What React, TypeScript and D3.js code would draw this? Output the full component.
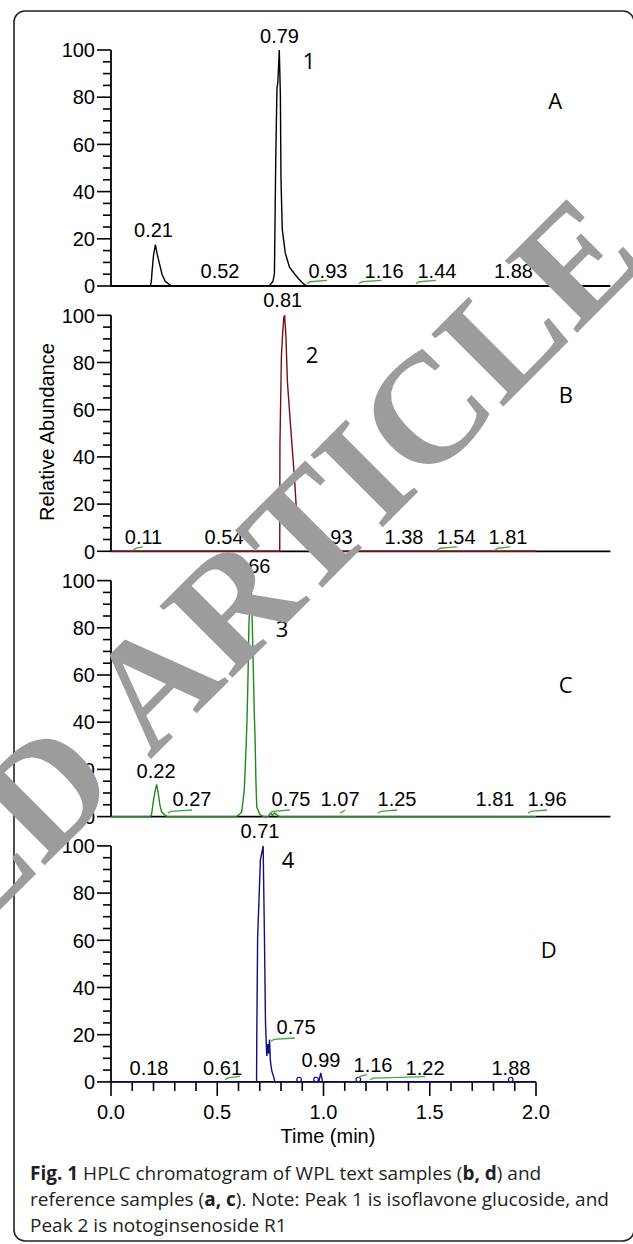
import * as d3 from "d3";

// retention time axis (min)
const xTicks = [0, 0.5, 1, 1.5, 2];
const xTickLabels = ["0.0", "0.5", "1.0", "1.5", "2.0"];
const yTicks = [0, 20, 40, 60, 80, 100];

const panelLetters = ["A", "B", "C", "D"];
const peakNumbers = ["1", "2", "3", "4"];

// traces: [time, relative abundance]
const traceA: [number, number][] = [
  [0, 0], [0.185, 0], [0.19, 2], [0.193, 6], [0.2, 13], [0.209, 17.5], [0.216, 14],
  [0.228, 9.5], [0.24, 5], [0.255, 2], [0.285, 0], [0.745, 0], [0.762, 2], [0.769, 5],
  [0.771, 20], [0.775, 52], [0.781, 84], [0.785, 86], [0.792, 100], [0.797, 81],
  [0.8, 45], [0.806, 24], [0.82, 14], [0.84, 8], [0.865, 5], [0.884, 3], [0.905, 1],
  [0.922, 0], [2.0, 0],
];
const traceB: [number, number][] = [
  [0, 0], [0.794, 0], [0.795, 45], [0.802, 83], [0.807, 91], [0.813, 99], [0.817, 100],
  [0.823, 91.5], [0.83, 72], [0.846, 52], [0.865, 29], [0.876, 12], [0.889, 10],
  [0.897, 6], [0.905, 4], [0.929, 2], [0.952, 0], [2.0, 0],
];
const traceC: [number, number][] = [
  [0, 0], [0.185, 0], [0.191, 1], [0.2, 7], [0.208, 11], [0.215, 13.6], [0.222, 10],
  [0.23, 5], [0.238, 2], [0.262, 0], [0.59, 0], [0.605, 1], [0.615, 2], [0.627, 11],
  [0.636, 30], [0.64, 41], [0.645, 60], [0.649, 81], [0.655, 95], [0.659, 100],
  [0.664, 85], [0.669, 65], [0.674, 45], [0.678, 33], [0.682, 15], [0.686, 4],
  [0.7, 1], [0.717, 0], [0.74, 0], [0.75, 1.5], [0.76, 0.5], [0.77, 1.5], [0.79, 0],
  [2.0, 0],
];
const traceD: [number, number][] = [
  [0, 0], [0.685, 0], [0.686, 19], [0.69, 61], [0.703, 94], [0.716, 100], [0.722, 62],
  [0.727, 25], [0.733, 11], [0.738, 16], [0.742, 12], [0.746, 18], [0.75, 9],
  [0.756, 5], [0.772, 0], [0.955, 0], [0.96, 1.5], [0.965, 0], [0.978, 0],
  [0.987, 3.8], [0.996, 0], [2.0, 0],
];
const markersD = [0.885, 0.965, 1.164, 1.881];

// peak labels: [text, anchor time, anchor abundance]
const labelsA: [string, number, number][] = [
  ["0.79", 0.793, 103], ["0.21", 0.2, 20.8], ["0.52", 0.513, 3.4], ["0.93", 1.021, 3.4],
  ["1.16", 1.285, 3.4], ["1.44", 1.534, 3.4], ["1.88", 1.894, 3.4],
];
const labelsB: [string, number, number][] = [
  ["0.81", 0.808, 103.5], ["0.11", 0.153, 3], ["0.54", 0.532, 3], ["0.93", 1.045, 3],
  ["1.38", 1.379, 3], ["1.54", 1.624, 3], ["1.81", 1.868, 3],
];
const labelsC: [string, number, number][] = [
  ["0.66", 0.659, 103.4], ["0.22", 0.212, 16.5], ["0.27", 0.381, 4.4], ["0.75", 0.847, 4.4],
  ["1.07", 1.078, 4.4], ["1.25", 1.346, 4.4], ["1.81", 1.807, 4.4], ["1.96", 2.052, 4.4],
];
const labelsD: [string, number, number][] = [
  ["0.71", 0.701, 103.4], ["0.18", 0.179, 3], ["0.61", 0.525, 3], ["0.75", 0.871, 20.3],
  ["0.99", 0.988, 6.4], ["1.16", 1.233, 4.2], ["1.22", 1.478, 3], ["1.88", 1.882, 3],
];

// green integration marks: [start time, end time, abundance]
const marksA: [number, number, number][] = [
  [0.922, 1.016, 1.8], [1.167, 1.273, 1.8], [1.435, 1.529, 1.8],
];
const marksB: [number, number, number][] = [
  [0.104, 0.151, 1.3], [0.927, 0.951, 4.5], [1.534, 1.628, 1.3], [1.807, 1.878, 1.3],
];
const marksC: [number, number, number][] = [
  [0.268, 0.381, 2.2], [0.748, 0.842, 2.2], [1.078, 1.101, 2.2], [1.256, 1.346, 2.2],
  [1.962, 2.052, 2.2],
];
const marksD: [number, number, number][] = [
  [0.536, 0.607, 1.7], [0.753, 0.866, 18], [1.162, 1.205, 2.5], [1.219, 1.478, 1.6],
];

// where peak numbers and panel letters sit: [time, abundance]
const peakNumberAt: [number, number][] = [[0.932, 92], [0.946, 80], [0.805, 76], [0.833, 90.7]];
const letterAt: [number, number][] = [[2.09, 75], [2.14, 62.7], [2.14, 52.5], [2.06, 52.5]];

const traces = [traceA, traceB, traceC, traceD];
const labels = [labelsA, labelsB, labelsC, labelsD];
const marks = [marksA, marksB, marksC, marksD];
const colors = ["#000000", "#7a0f12", "#1d8a1d", "#10107a"];

const W = 633;
const H = 1244;
const FONT = "'Liberation Sans', Arial, sans-serif";
const SANS = "'Open Sans', 'Noto Sans', sans-serif";

export default function App() {
  const x = d3.scaleLinear().domain([0, 2]).range([111, 536]);
  const panelTop = (i: number) => 50 + i * 265.3;
  const panelH = 236;

  const wmSize = 156;

  return (
    <svg
      width={W}
      height={H}
      style={{ position: "absolute", left: 0, top: 0, background: "#fff" }}
    >
      <rect x={14} y={11} width={620} height={1230} rx={11} fill="#fff" stroke="#222" strokeWidth={1.6} />

      {traces.map((trace, i) => {
        const top = panelTop(i);
        const y = d3.scaleLinear().domain([0, 100]).range([top + panelH, top]);
        const line = d3
          .line<[number, number]>()
          .x((d) => x(d[0]))
          .y((d) => y(d[1]));
        const minor = d3.range(0, 101, 5);
        const isLast = i === traces.length - 1;
        return (
          <g key={i}>
            {/* y axis */}
            <line x1={x(0)} x2={x(0)} y1={y(0)} y2={y(100)} stroke="#000" strokeWidth={1.8} />
            {minor.map((v) => (
              <line
                key={v}
                x1={x(0) - (v % 20 === 0 ? 14 : 8)}
                x2={x(0)}
                y1={y(v)}
                y2={y(v)}
                stroke="#000"
                strokeWidth={1.6}
              />
            ))}
            {yTicks.map((v) => (
              <text
                key={v}
                x={x(0) - 16}
                y={y(v)}
                dy="0.36em"
                textAnchor="end"
                fontFamily={FONT}
                fontSize={20}
              >
                {v}
              </text>
            ))}
            {/* baseline / x axis */}
            <line
              x1={x(0)}
              x2={isLast ? x(2) : x(2.35)}
              y1={y(0)}
              y2={y(0)}
              stroke="#000"
              strokeWidth={1.8}
            />
            {isLast &&
              d3.range(0, 21).map((k) => (
                <line
                  key={k}
                  x1={x(k / 10)}
                  x2={x(k / 10)}
                  y1={y(0)}
                  y2={y(0) + (k % 5 === 0 ? 14 : 9)}
                  stroke="#000"
                  strokeWidth={1.6}
                />
              ))}
            {isLast &&
              xTicks.map((t, k) => (
                <text
                  key={t}
                  x={x(t)}
                  y={y(0) + 37}
                  textAnchor="middle"
                  fontFamily={FONT}
                  fontSize={20}
                >
                  {xTickLabels[k]}
                </text>
              ))}

            {/* trace */}
            <path d={line(trace) ?? ""} fill="none" stroke={colors[i]} strokeWidth={1.4} />
            {isLast &&
              markersD.map((t) => (
                <circle key={t} cx={x(t)} cy={y(1)} r={2.3} fill="#fff" stroke={colors[i]} strokeWidth={1.2} />
              ))}

            {/* green integration marks */}
            {marks[i].map(([t1, t2, v], k) => (
              <path
                key={k}
                d={`M${x(t1)},${y(v - 0.8)}L${x(t1) + 3},${y(v)}L${x(t2)},${y(v + 0.6)}`}
                fill="none"
                stroke="#3fae3f"
                strokeWidth={1.3}
              />
            ))}

            {/* retention time labels */}
            {labels[i].map(([txt, t, v], k) => (
              <text key={k} x={x(t)} y={y(v)} textAnchor="middle" fontFamily={FONT} fontSize={20}>
                {txt}
              </text>
            ))}

            <text
              x={x(peakNumberAt[i][0])}
              y={y(peakNumberAt[i][1])}
              textAnchor="middle"
              fontFamily={SANS}
              fontSize={22}
            >
              {peakNumbers[i]}
            </text>
            <text
              x={x(letterAt[i][0])}
              y={y(letterAt[i][1])}
              textAnchor="middle"
              fontFamily={SANS}
              fontSize={22}
            >
              {panelLetters[i]}
            </text>
          </g>
        );
      })}

      <text
        transform="translate(54,432) rotate(-90)"
        textAnchor="middle"
        fontFamily={FONT}
        fontSize={20}
      >
        Relative Abundance
      </text>
      <text x={328} y={1143} textAnchor="middle" fontFamily={FONT} fontSize={20}>
        Time (min)
      </text>

      <g fontFamily={SANS} fontSize={19} fill="#231f20">
        <text x={30} y={1180}>
          <tspan fontWeight="bold">Fig. 1</tspan> HPLC chromatogram of WPL text samples (
          <tspan fontWeight="bold">b, d</tspan>) and
        </text>
        <text x={30} y={1206}>
          reference samples (<tspan fontWeight="bold">a, c</tspan>). Note: Peak 1 is isoflavone glucoside, and
        </text>
        <text x={30} y={1232}>Peak 2 is notoginsenoside R1</text>
      </g>

      {/* retraction watermark */}
      <g
        transform="translate(150,760) rotate(-45)"
        fontFamily="'Liberation Serif', 'Times New Roman', serif"
        fontWeight="bold"
        fontSize={wmSize}
        fill="#9c9c9c"
      >
        <text x={-0.25 * wmSize} textAnchor="end">RETRACTED</text>
        <text x={0}>ARTICLE</text>
      </g>
    </svg>
  );
}
